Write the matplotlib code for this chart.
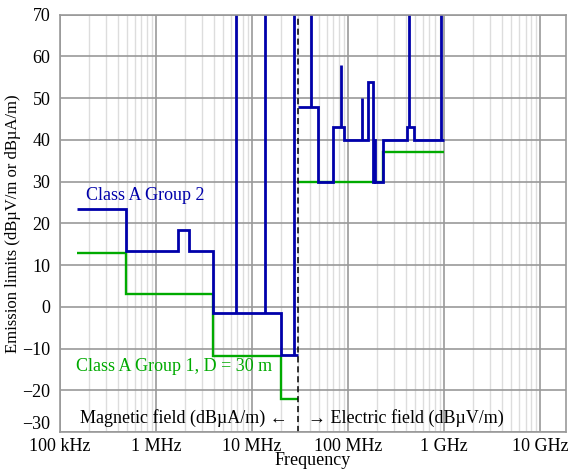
import numpy as np
import matplotlib
matplotlib.use("Agg")
import matplotlib.pyplot as plt
import matplotlib.transforms as mtransforms
from matplotlib.ticker import FixedLocator, LogLocator, NullFormatter

plt.rcParams['font.family'] = ['Liberation Serif', 'DejaVu Serif']
plt.rcParams['axes.unicode_minus'] = True

MHZ = 1e6
BLUE = "#0000aa"
GREEN = "#00aa00"
FS = 13

# Class A Group 2, below 30 MHz (magnetic field)
blue_low_edges = [0.15, 0.49, 1.705, 2.194, 3.95, 20, 30]
blue_low_levels = [23.5, 13.5, 18.5, 13.5, -1.5, -11.5]
blue_low_spikes = [6.78, 13.56, 27.12]
blue_low_spike_base = [-1.5, -1.5, -11.5]
blue_low_spike_top = [75, 75, 75]

# Class A Group 2, above 30 MHz (electric field)
blue_high_edges = [30, 48.5, 69, 89.5, 159, 179, 184, 188, 230, 409, 483, 1000]
blue_high_levels = [48, 30, 43, 40, 54, 30, 40, 30, 40, 43, 40]
blue_high_spikes = [40.68, 84, 139, 433.9, 925]
blue_high_spike_base = [48, 43, 40, 43, 40]
blue_high_spike_top = [75, 58, 50, 75, 75]

# Class A Group 1, D = 30 m
green_low_edges = [0.15, 0.49, 3.95, 20, 30]
green_low_levels = [13, 3, -11.8, -22]
green_high_edges = [30, 230, 1000]
green_high_levels = [30, 37]

x_ticks = [1e5, 1e6, 1e7, 1e8, 1e9, 1e10]
x_tick_labels = ["100 kHz", "1 MHz", "10 MHz", "100 MHz", "1 GHz", "10 GHz"]
y_ticks = list(range(-30, 71, 10))

fig = plt.figure(figsize=(5.68, 4.72), dpi=100)
ax = fig.add_axes([0.1056, 0.0847, 0.891, 0.884])

ax.set_xscale("log")
ax.set_xlim(1e5, 1.85e10)
ax.set_ylim(-30, 70)

# grid
ax.xaxis.set_major_locator(FixedLocator(x_ticks))
ax.xaxis.set_minor_locator(LogLocator(base=10, subs=np.arange(2, 10), numticks=20))
ax.xaxis.set_minor_formatter(NullFormatter())
ax.set_yticks(y_ticks)
ax.set_xticklabels(x_tick_labels)
ax.grid(which="minor", axis="x", color="#dddddd", lw=1.0)
ax.grid(which="major", color="#999999", lw=1.2)
ax.set_axisbelow(True)
for sp in ax.spines.values():
    sp.set_color("#999999")
    sp.set_linewidth(1.2)
ax.tick_params(which="both", length=0, labelsize=FS)
ax.tick_params(axis="x", pad=4)
ax.tick_params(axis="y", pad=7)

# lift the lowest y label a bit so it clears "100 kHz", like the original
fig.canvas.draw()
ylabels = ax.get_yticklabels()
ylabels[0].set_transform(ylabels[0].get_transform() +
                         mtransforms.ScaledTranslation(0, 7 / 72, fig.dpi_scale_trans))

# limit lines
ax.stairs(green_low_levels, np.array(green_low_edges) * MHZ, color=GREEN, lw=1.7, baseline=None)
ax.stairs(green_high_levels, np.array(green_high_edges) * MHZ, color=GREEN, lw=1.7, baseline=None)
ax.stairs(blue_low_levels, np.array(blue_low_edges) * MHZ, color=BLUE, lw=2.0, baseline=None)
ax.stairs(blue_high_levels, np.array(blue_high_edges) * MHZ, color=BLUE, lw=2.0, baseline=None)
ax.vlines(np.array(blue_low_spikes) * MHZ, blue_low_spike_base, blue_low_spike_top, color=BLUE, lw=2.0)
ax.vlines(np.array(blue_high_spikes) * MHZ, blue_high_spike_base, blue_high_spike_top, color=BLUE, lw=2.0)

# boundary between magnetic and electric field
ax.axvline(30 * MHZ, color="black", lw=1.1, ls=(0, (4, 2.5)))

ax.text(1.87e5, 26.8, "Class A Group 2", color=BLUE, fontsize=FS, ha="left", va="center")
ax.text(1.47e5, -14.4, "Class A Group 1, D = 30 m", color=GREEN, fontsize=FS, ha="left", va="center")
ax.text(2.37e7, -26.6, "Magnetic field (dBµA/m) \u2190", fontsize=FS, ha="right", va="center")
ax.text(3.8e7, -26.6, "\u2192 Electric field (dBµV/m)", fontsize=FS, ha="left", va="center")

ax.set_xlabel("Frequency", fontsize=FS, labelpad=-2)
ax.set_ylabel("Emission limits (dBµV/m or dBµA/m)", fontsize=12)
ax.yaxis.set_label_coords(-0.077, 0.5)

fig.savefig("out.png", dpi=100)
